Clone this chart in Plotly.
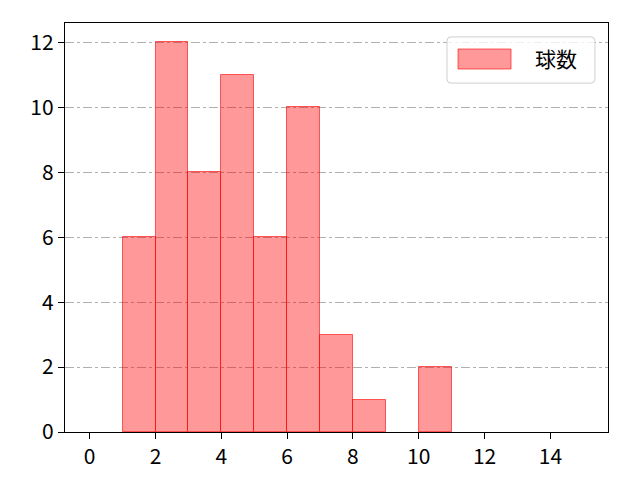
import plotly.graph_objects as go

bin_left = [1, 2, 3, 4, 5, 6, 7, 8, 9, 10]
counts = [6, 12, 8, 11, 6, 10, 3, 1, 0, 2]
bin_width = 1
series_name = "球数"
x_ticks = [0, 2, 4, 6, 8, 10, 12, 14]
y_ticks = [0, 2, 4, 6, 8, 10, 12]

centers = [b + bin_width / 2 for b in bin_left]
heights = [c if c > 0 else None for c in counts]

fill = "rgba(255,0,0,0.4)"
edge = "rgba(255,0,0,0.6)"
font_family = "Noto Sans CJK JP, DejaVu Sans"

fig = go.Figure()
fig.add_trace(go.Bar(
    x=centers, y=heights, width=bin_width, name=series_name,
    marker=dict(color=fill, line=dict(color=edge, width=1)),
    showlegend=False,
))

# matplotlib-style legend box with rounded corners (paper coords)
plot_w, plot_h = 543, 409
x0, x1, y0, y1 = 0.7035, 0.976, 0.853, 0.966
rx, ry = 4 / plot_w, 4 / plot_h
path = (f"M {x0+rx},{y0} L {x1-rx},{y0} Q {x1},{y0} {x1},{y0+ry} "
        f"L {x1},{y1-ry} Q {x1},{y1} {x1-rx},{y1} "
        f"L {x0+rx},{y1} Q {x0},{y1} {x0},{y1-ry} "
        f"L {x0},{y0+ry} Q {x0},{y0} {x0+rx},{y0} Z")
fig.add_shape(type="path", xref="paper", yref="paper", path=path,
              line=dict(color="#d0d0d0", width=1), fillcolor="rgba(255,255,255,0.8)", layer="above")
fig.add_shape(type="rect", xref="paper", yref="paper",
              x0=0.7238, x1=0.8214, y0=0.8875, y1=0.9364,
              line=dict(color=edge, width=1), fillcolor=fill, layer="above")
fig.add_annotation(xref="paper", yref="paper", x=0.862, y=0.9144,
                   xanchor="left", yanchor="middle", showarrow=False,
                   text=series_name, font=dict(family=font_family, size=21, color="black"))

fig.update_layout(
    width=640, height=480,
    margin=dict(l=57, r=40, t=15, b=56),
    paper_bgcolor="white", plot_bgcolor="white",
    font=dict(family=font_family, size=21, color="black"),
    bargap=0,
    showlegend=False,
    xaxis=dict(range=[-0.75, 15.75], tickvals=x_ticks, showgrid=False, zeroline=False,
               showline=True, linecolor="black", linewidth=1.3, mirror=True,
               ticks="outside", ticklen=6, tickcolor="black", tickwidth=1.3),
    yaxis=dict(range=[0, 12.6], tickvals=y_ticks, showgrid=True, gridcolor="#b0b0b0",
               griddash="dashdot", gridwidth=1, zeroline=False,
               showline=True, linecolor="black", linewidth=1.3, mirror=True,
               ticks="outside", ticklen=6, tickcolor="black", tickwidth=1.3),
)
fig.write_html("out.html")
